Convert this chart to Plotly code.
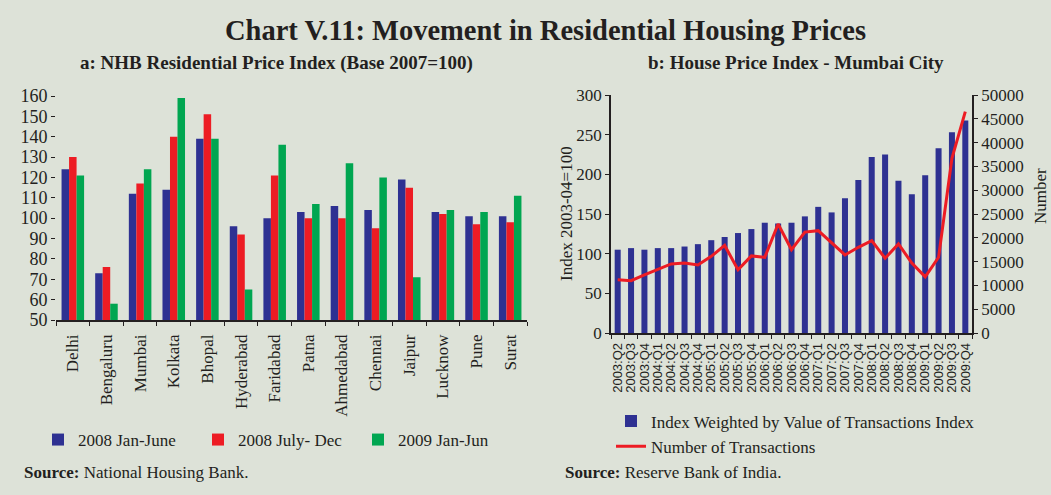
import plotly.graph_objects as go

cities = ["Delhi", "Bengaluru", "Mumbai", "Kolkata", "Bhopal", "Hyderabad", "Faridabad",
          "Patna", "Ahmedabad", "Chennai", "Jaipur", "Lucknow", "Pune", "Surat"]
h1_2008 = [124, 73, 112, 114, 139, 96, 100, 103, 106, 104, 119, 103, 101, 101]
h2_2008 = [130, 76, 117, 140, 151, 92, 121, 100, 100, 95, 115, 102, 97, 98]
h1_2009 = [121, 58, 124, 159, 139, 65, 136, 107, 127, 120, 71, 104, 103, 111]

quarters = ["2003:Q2", "2003:Q3", "2003:Q4",
            "2004:Q1", "2004:Q2", "2004:Q3", "2004:Q4",
            "2005:Q1", "2005:Q2", "2005:Q3", "2005:Q4",
            "2006:Q1", "2006:Q2", "2006:Q3", "2006:Q4",
            "2007:Q1", "2007:Q2", "2007:Q3", "2007:Q4",
            "2008:Q1", "2008:Q2", "2008:Q3", "2008:Q4",
            "2009:Q1", "2009:Q2", "2009:Q3", "2009:Q4"]
index_value = [105, 107, 105, 107, 107, 109, 112, 117, 121, 126, 131, 139, 138, 139,
               147, 159, 152, 170, 193, 222, 225, 192, 175, 199, 233, 253, 268]
transactions = [11200, 11000, 12200, 13300, 14500, 14700, 14300, 16100, 18400, 13300,
                16200, 15900, 22900, 17500, 21200, 21500, 18900, 16400, 18000, 19400,
                15700, 18700, 14700, 11800, 15900, 36700, 46500]

BG = "#dde2d8"
BLUE = "#2e3192"
RED = "#ed1c24"
GREEN = "#00a651"
INK = "#231f20"
FONT = "Liberation Serif"
W, H = 1051, 495


def px_x(v):
    return v / W


def px_y(v):
    return 1 - v / H


fig = go.Figure()
for name, vals, col in [("2008 Jan-June", h1_2008, BLUE),
                        ("2008 July- Dec", h2_2008, RED),
                        ("2009 Jan-Jun", h1_2009, GREEN)]:
    fig.add_trace(go.Bar(x=cities, y=vals, name=name, marker=dict(color=col, line=dict(width=0)),
                         xaxis="x", yaxis="y", legend="legend"))

fig.add_trace(go.Bar(x=quarters, y=index_value, name="Index Weighted by Value of Transactions Index",
                     marker=dict(color=BLUE, line=dict(width=0)), width=0.45,
                     xaxis="x2", yaxis="y2", legend="legend2", legendgroup="a"))
fig.add_trace(go.Scatter(x=quarters, y=transactions, name="Number of Transactions", mode="lines",
                         line=dict(color=RED, width=3), xaxis="x2", yaxis="y3",
                         legend="legend2", legendgroup="b"))

tickfont = dict(family=FONT, size=17, color=INK)

fig.update_layout(
    width=W, height=H, autosize=False,
    paper_bgcolor=BG, plot_bgcolor=BG,
    margin=dict(l=0, r=0, t=0, b=0, pad=0, autoexpand=False),
    barmode="group", bargap=0.33, bargroupgap=0,
    font=dict(family=FONT, size=17, color=INK),
    xaxis=dict(domain=[px_x(56), px_x(527)], type="category", tickangle=-90,
               tickfont=tickfont, showline=True, linecolor=INK, linewidth=1.5,
               ticks="outside", ticklen=4, tickson="boundaries", tickcolor=INK,
               ticklabelstandoff=6, showgrid=False, anchor="y", automargin=False),
    yaxis=dict(domain=[px_y(320), px_y(96)], range=[50, 160], dtick=10,
               tickfont=dict(family=FONT, size=18, color=INK), showline=False,
               ticks="outside", ticklen=4,
               tickcolor=INK, showgrid=False, zeroline=False, anchor="x", automargin=False),
    xaxis2=dict(domain=[px_x(611), px_x(972)], type="category", tickangle=-90,
                tickmode="linear", tick0=0, dtick=1,
                tickfont=dict(family="Liberation Sans", size=13, color=INK),
                showline=True, linecolor=INK, linewidth=1.5,
                ticks="outside", ticklen=4, tickson="boundaries", tickcolor=INK,
                ticklabelstandoff=3, showgrid=False, anchor="y2", automargin=False),
    yaxis2=dict(domain=[px_y(333), px_y(95)], range=[0, 300], dtick=50,
                tickfont=tickfont, showline=True, linecolor=INK, linewidth=1.5,
                ticks="outside", ticklen=4, tickcolor=INK, showgrid=False,
                zeroline=False, anchor="x2", automargin=False),
    yaxis3=dict(domain=[px_y(333), px_y(95)], range=[0, 50000], dtick=5000, tickformat="d",
                overlaying="y2", side="right", anchor="x2",
                tickfont=tickfont, showline=True, linecolor=INK, linewidth=1.5,
                ticks="outside", ticklen=4, tickcolor=INK, showgrid=False,
                zeroline=False, automargin=False),
    legend=dict(orientation="h", x=px_x(38), y=px_y(440), xanchor="left", yanchor="middle",
                bgcolor="rgba(0,0,0,0)", font=dict(family=FONT, size=17),
                entrywidth=115, traceorder="normal"),
    legend2=dict(orientation="v", x=px_x(611), y=px_y(434), xanchor="left", yanchor="middle",
                 bgcolor="rgba(0,0,0,0)", font=dict(family=FONT, size=17),
                 traceorder="grouped", tracegroupgap=0),
    showlegend=True,
)

ann = [
    dict(text="<b>Chart V.11: Movement in Residential Housing Prices</b>", x=px_x(545), y=px_y(31),
         font=dict(size=28.5)),
    dict(text="<b>a: NHB Residential Price Index (Base 2007=100)</b>", x=px_x(276), y=px_y(63),
         font=dict(size=19)),
    dict(text="<b>b: House Price Index - Mumbai City</b>", x=px_x(796), y=px_y(63),
         font=dict(size=19)),
    dict(text="<b>Source:</b> National Housing Bank.", x=px_x(22), y=px_y(472), xanchor="left",
         font=dict(size=17)),
    dict(text="<b>Source:</b> Reserve Bank of India.", x=px_x(563), y=px_y(472), xanchor="left",
         font=dict(size=17)),
    dict(text="Index 2003-04=100", x=px_x(566), y=px_y(214), textangle=-90, font=dict(size=17)),
    dict(text="Number", x=px_x(1040), y=px_y(196), textangle=-90, font=dict(size=17)),
]
for a in ann:
    a.setdefault("xanchor", "center")
    fig.add_annotation(xref="paper", yref="paper", showarrow=False, yanchor="middle",
                       font=dict(family=FONT, color=INK, size=a.pop("font")["size"]), **a)

fig.write_html("out.html", post_script="document.body.style.margin='0px';document.body.style.overflow='hidden';")
